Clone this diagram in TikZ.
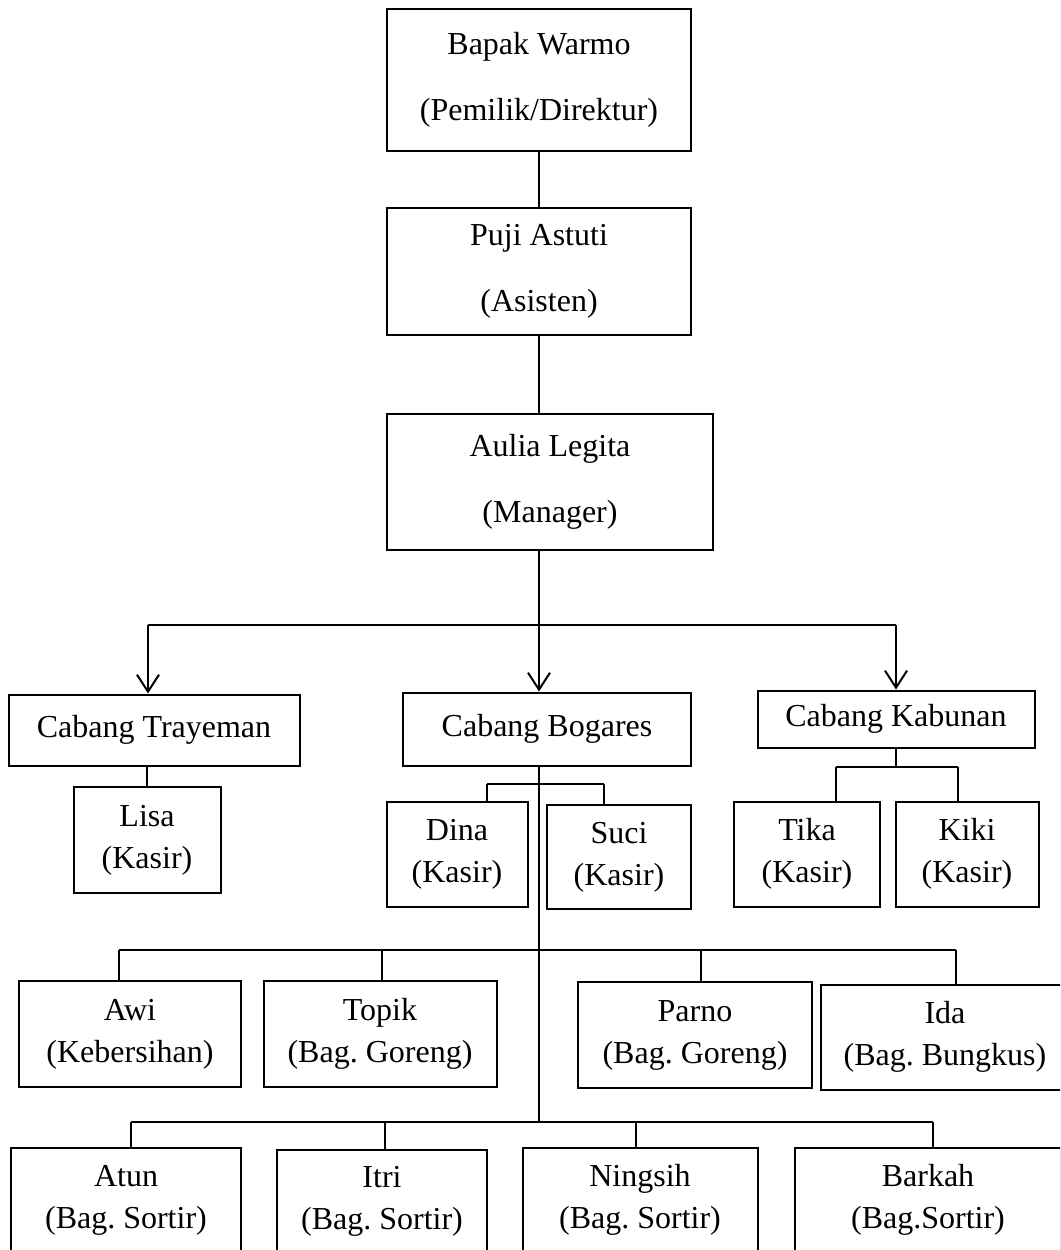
\documentclass[tikz,border=0pt]{standalone}
\usepackage{fontspec}
\setmainfont{Liberation Serif}
\frenchspacing
\usetikzlibrary{arrows.meta}
\tikzset{%
  jabatan/.style={draw, line width=2pt, text centered, align=center, inner sep=0pt, font=\fontsize{32}{42}\selectfont},
  pimpinan/.style={jabatan, font=\fontsize{32}{66}\selectfont},
  line/.style={draw, line width=2pt},
  panah/.style={line, -{Straight Barb[length=17pt, width=22pt]}},
}
\newcommand{\turun}[2]{%
  \path [line] (#1) -- (#1 |- #2.north);}

\begin{document}
\begin{tikzpicture}[x=1pt, y=-1pt]
  \useasboundingbox (0,0) rectangle (1060,1250);
  \clip (0,0) rectangle (1060,1250);

  % pimpinan
  \node (warmo) [pimpinan, minimum width=304pt, minimum height=142pt] at (539,80) {Bapak Warmo\\(Pemilik/Direktur)};
  \node (puji) [pimpinan, minimum width=304pt, minimum height=127pt] at (539,271) {Puji Astuti\\(Asisten)};
  \node (aulia) [pimpinan, minimum width=326pt, minimum height=136pt] at (550,482) {Aulia Legita\\(Manager)};

  % cabang
  \node (tray) [jabatan, minimum width=291pt, minimum height=71pt] at (154,730) {Cabang Trayeman};
  \node (bogar) [jabatan, minimum width=288pt, minimum height=73pt] at (547,729) {Cabang Bogares};
  \node (kabun) [jabatan, minimum width=277pt, minimum height=57pt] at (896,719) {Cabang Kabunan};

  % kasir
  \node (lisa) [jabatan, minimum width=147pt, minimum height=106pt] at (147,840) {Lisa\\(Kasir)};
  \node (dina) [jabatan, minimum width=141pt, minimum height=105pt] at (457,854) {Dina\\(Kasir)};
  \node (suci) [jabatan, minimum width=144pt, minimum height=104pt] at (619,857) {Suci\\(Kasir)};
  \node (tika) [jabatan, minimum width=146pt, minimum height=105pt] at (807,854) {Tika\\(Kasir)};
  \node (kiki) [jabatan, minimum width=143pt, minimum height=105pt] at (967,854) {Kiki\\(Kasir)};

  % karyawan
  \node (awi) [jabatan, minimum width=222pt, minimum height=106pt] at (130,1034) {Awi\\(Kebersihan)};
  \node (topik) [jabatan, minimum width=233pt, minimum height=106pt] at (380,1034) {Topik\\(Bag. Goreng)};
  \node (parno) [jabatan, minimum width=234pt, minimum height=106pt] at (695,1035) {Parno\\(Bag. Goreng)};
  \node (ida) [jabatan, minimum width=248pt, minimum height=105pt] at (945,1037) {Ida\\(Bag. Bungkus)};
  \node (atun) [jabatan, minimum width=230pt, minimum height=104pt] at (126,1200) {Atun\\(Bag. Sortir)};
  \node (itri) [jabatan, minimum width=210pt, minimum height=102pt] at (382,1201) {Itri\\(Bag. Sortir)};
  \node (ningsih) [jabatan, minimum width=235pt, minimum height=104pt] at (640,1200) {Ningsih\\(Bag. Sortir)};
  \node (barkah) [jabatan, minimum width=266pt, minimum height=104pt] at (928,1200) {Barkah\\(Bag.Sortir)};

  \coordinate (c-tray) at (148,625);
  \coordinate (c-kabun) at (896,625);
  \coordinate (c-dina) at (487,784);
  \coordinate (c-suci) at (604,784);
  \coordinate (c-tika) at (836,767);
  \coordinate (c-kiki) at (958,767);
  \coordinate (c-awi) at (119,950);
  \coordinate (c-topik) at (382,950);
  \coordinate (c-parno) at (701,950);
  \coordinate (c-ida) at (956,950);
  \coordinate (c-atun) at (131,1122);
  \coordinate (c-itri) at (385,1122);
  \coordinate (c-ningsih) at (636,1122);
  \coordinate (c-barkah) at (933,1122);

  \path [line] (warmo.south) -- (puji.north);
  \path [line] (puji.south) -- (puji.south |- aulia.north);
  \path [panah] (puji.south |- aulia.south) -- (puji.south |- bogar.north);
  \path [line] (c-tray) -- (c-kabun);
  \path [panah] (c-tray) -- (c-tray |- tray.north);
  \path [panah] (c-kabun) -- (c-kabun |- kabun.north);

  \path [line] (lisa.north |- tray.south) -- (lisa.north);
  \path [line] (puji.south |- bogar.south) -- (puji.south |- c-atun);
  \path [line] (c-dina) -- (c-suci);
  \turun{c-dina}{dina};
  \turun{c-suci}{suci};
  \path [line] (kabun.south) -- (kabun.south |- c-tika);
  \path [line] (c-tika) -- (c-kiki);
  \turun{c-tika}{tika};
  \turun{c-kiki}{kiki};

  \path [line] (c-awi) -- (c-ida);
  \turun{c-awi}{awi};
  \turun{c-topik}{topik};
  \turun{c-parno}{parno};
  \turun{c-ida}{ida};
  \path [line] (c-atun) -- (c-barkah);
  \turun{c-atun}{atun};
  \turun{c-itri}{itri};
  \turun{c-ningsih}{ningsih};
  \turun{c-barkah}{barkah};
\end{tikzpicture}
\end{document}
